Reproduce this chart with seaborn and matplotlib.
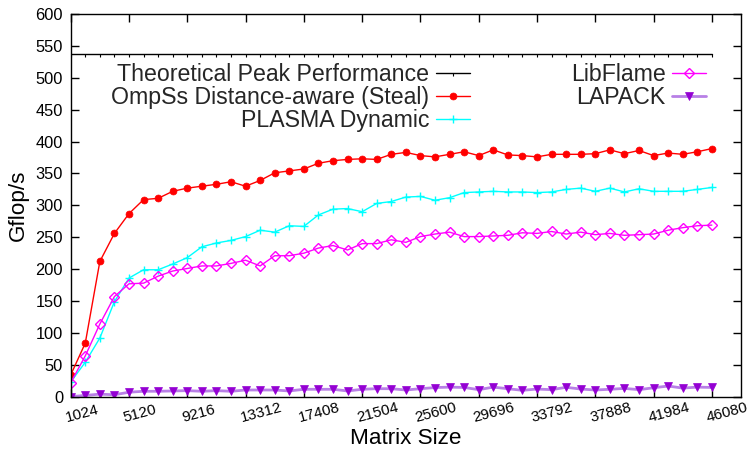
import matplotlib
matplotlib.use("Agg")
import matplotlib.pyplot as plt
import matplotlib.transforms as mtransforms
import seaborn as sns
import pandas as pd

# ---------------- data ----------------
matrix_sizes = [1024 * k for k in range(1, 46)]  # 1024 ... 46080
x_ticks = [1024, 5120, 9216, 13312, 17408, 21504, 25600, 29696,
           33792, 37888, 41984, 46080]
y_ticks = list(range(0, 601, 50))

peak_value = 537.6
peak = [peak_value] * len(matrix_sizes)

ompss = [34, 84, 212, 256, 287, 309, 311, 322, 327, 330, 333, 337, 330, 339,
         351, 354, 357, 366, 370, 372, 373, 372, 380, 383, 378, 376, 380, 384,
         378, 387, 379, 378, 376, 380, 380, 380, 381, 387, 381, 386, 378, 382,
         380, 384, 389]
plasma = [23, 54, 92, 149, 186, 199, 199, 208, 218, 235, 241, 245, 251, 261,
          258, 268, 267, 285, 294, 295, 290, 303, 306, 313, 314, 308, 312, 320,
          321, 322, 321, 321, 320, 321, 325, 327, 322, 327, 321, 326, 322, 322,
          322, 325, 328]
libflame = [22, 64, 114, 157, 177, 178, 189, 197, 201, 205, 205, 209, 214, 205,
            221, 221, 225, 233, 237, 230, 240, 240, 246, 242, 251, 255, 258, 251,
            251, 252, 253, 257, 256, 259, 255, 258, 254, 256, 253, 254, 255, 261,
            265, 268, 269]
lapack = [0, 2, 4, 3, 7, 8.5, 8.5, 9, 9.5, 8.5, 9.5, 8.5, 10.5, 10.5, 10.5, 9,
          11.6, 11.6, 11.6, 9, 11.6, 12.6, 12.5, 10.5, 12.5, 14.3, 15, 14.5, 11,
          15, 12.5, 10, 12, 11, 14.7, 12, 10.5, 11.6, 13, 11, 14, 16.7, 13.5, 15,
          14.5]

labels = ["Theoretical Peak Performance", "OmpSs Distance-aware (Steal)",
          "PLASMA Dynamic", "LibFlame", "LAPACK"]

# ---------------- style ----------------
sns.set_style("ticks")
plt.rcParams['font.family'] = ['Liberation Sans', 'DejaVu Sans']

fig = plt.figure(figsize=(7.49, 4.53), dpi=100)
ax = fig.add_axes([0.0944, 0.1243, 0.8949, 0.8448])

df = pd.DataFrame({"size": matrix_sizes, "peak": peak, "ompss": ompss,
                   "plasma": plasma, "libflame": libflame, "lapack": lapack})

sns.lineplot(data=df, x="size", y="peak", ax=ax, color="black", lw=1.0,
             marker=3, markersize=2.5, markeredgewidth=0.8,
             markeredgecolor="black", label=labels[0], errorbar=None)
sns.lineplot(data=df, x="size", y="ompss", ax=ax, color="#ff0000", lw=1.0,
             marker="o", markersize=5, markerfacecolor="#ff0000",
             markeredgecolor="#ff0000", markeredgewidth=0.5,
             label=labels[1], errorbar=None)
sns.lineplot(data=df, x="size", y="plasma", ax=ax, color="#00ffff", lw=1.0,
             marker="+", markersize=6, markeredgecolor="#00ffff",
             markeredgewidth=1.0, label=labels[2], errorbar=None)
sns.lineplot(data=df, x="size", y="libflame", ax=ax, color="#ff00ff", lw=1.0,
             marker="D", markersize=4.8, markerfacecolor="none",
             markeredgecolor="#ff00ff", markeredgewidth=1.0,
             label=labels[3], errorbar=None)
sns.lineplot(data=df, x="size", y="lapack", ax=ax, color="#b880e6", lw=2.0,
             marker="v", markersize=6, markerfacecolor="#9400d3",
             markeredgecolor="#9400d3", markeredgewidth=0.5,
             label=labels[4], errorbar=None)

ax.set_xlim(1024, 48128)
ax.set_ylim(0, 600)
ax.set_xticks(x_ticks)
ax.set_yticks(y_ticks)
ax.set_xticklabels([str(t) for t in x_ticks])
ax.set_yticklabels([str(t) for t in y_ticks])

for sp in ax.spines.values():
    sp.set_visible(True)
    sp.set_color("black")
    sp.set_linewidth(1.0)

ax.tick_params(axis="both", direction="in", length=6, width=1, top=True,
               right=True, colors="black")
ax.tick_params(axis="y", pad=5.5, labelsize=11.8)
ax.tick_params(axis="x", pad=10.5, labelsize=11)
shift = mtransforms.ScaledTranslation(-7 / 100, 0, fig.dpi_scale_trans)
for lab in ax.get_xticklabels():
    lab.set_rotation(15)
    lab.set_ha("left")
    lab.set_va("top")
    lab.set_rotation_mode("anchor")
    lab.set_transform(lab.get_transform() + shift)

ax.set_xlabel("Matrix Size", fontsize=16.2, color="black")
ax.set_ylabel("Gflop/s", fontsize=16.2, color="black")
ax.xaxis.label.set_va("center")
ax.yaxis.label.set_va("center")
ax.xaxis.set_label_coords(0.5, -0.108)
ax.yaxis.set_label_coords(-0.0786, 0.5)

handles, labs = ax.get_legend_handles_labels()
ax.legend(handles, labs, ncol=2, markerfirst=False, frameon=False,
          loc="upper right", bbox_to_anchor=(0.9478, 0.872),
          bbox_transform=ax.transAxes, fontsize=16.7, handlelength=1.47,
          handletextpad=0.27, columnspacing=4.36, labelspacing=0.0,
          borderpad=0, borderaxespad=0)

fig.savefig("out.png", dpi=100)
